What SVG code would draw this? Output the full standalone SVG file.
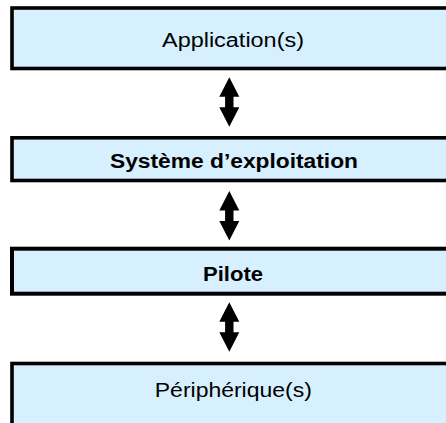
<svg xmlns="http://www.w3.org/2000/svg" xmlns:xlink="http://www.w3.org/1999/xlink" width="446" height="423" viewBox="0 0 446 423">
  <style>
    .box { fill: #d6f0ff; stroke: #000; stroke-width: 3.6; }
    .lbl { font-family: "Liberation Sans", Arial, sans-serif; font-size: 20px; fill: #000; text-anchor: middle; }
    .b { font-weight: bold; font-size: 19.5px; }
    .arr { fill: #000; stroke: none; }
  </style>
  <defs>
    <path id="dblarrow" d="M0,0 L10,19.5 L4.2,19.5 L4.2,30 L10,30 L0,49.5 L-10,30 L-4.2,30 L-4.2,19.5 L-10,19.5 Z"/>
  </defs>
  <rect width="446" height="423" fill="#fff"/>
  <g id="node-applications">
    <rect class="box" x="12" y="8" width="450" height="60.5"/>
    <text class="lbl" x="233" y="46.5" textLength="142" lengthAdjust="spacingAndGlyphs">Application(s)</text>
  </g>
  <g id="node-systeme">
    <rect class="box" x="12" y="137.8" width="450" height="42.7"/>
    <text class="lbl b" x="234" y="167.7" textLength="248" lengthAdjust="spacingAndGlyphs">Système d’exploitation</text>
  </g>
  <g id="node-pilote">
    <rect class="box" x="12" y="248.7" width="450" height="45" style="stroke-width:4"/>
    <text class="lbl b" x="233" y="281.3" textLength="60" lengthAdjust="spacingAndGlyphs">Pilote</text>
  </g>
  <g id="node-peripheriques">
    <rect class="box" x="12" y="363.5" width="450" height="80"/>
    <text class="lbl" x="233.3" y="397" textLength="157" lengthAdjust="spacingAndGlyphs">Périphérique(s)</text>
  </g>
  <g id="connectors">
    <use class="arr" xlink:href="#dblarrow" href="#dblarrow" x="229.3" y="77.3"/>
    <use class="arr" xlink:href="#dblarrow" href="#dblarrow" x="229.3" y="191"/>
    <use class="arr" xlink:href="#dblarrow" href="#dblarrow" x="229.3" y="302.3"/>
  </g>
</svg>
